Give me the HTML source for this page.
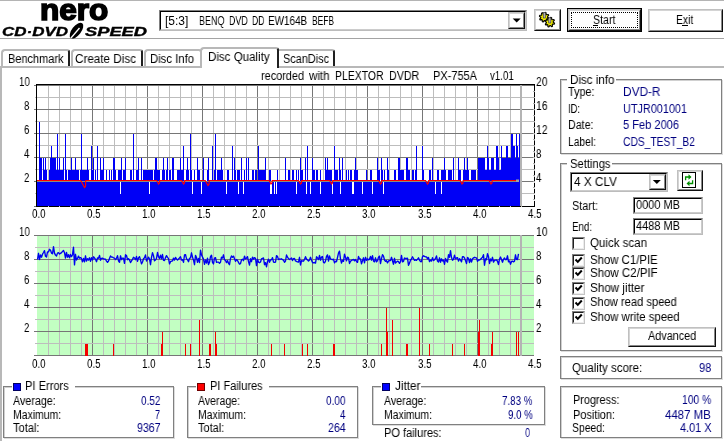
<!DOCTYPE html>
<html><head><meta charset="utf-8"><title>Nero CD-DVD Speed</title>
<style>
html,body{margin:0;padding:0;}
body{width:724px;height:441px;background:#fff;position:relative;overflow:hidden;font-family:"Liberation Sans",sans-serif;}
.t{position:absolute;white-space:nowrap;line-height:1;transform-origin:0 0;will-change:transform;font-family:"Liberation Sans",sans-serif;}
svg{position:absolute;left:0;top:0;}
</style></head><body>
<div style="position:absolute;left:0px;top:0px;width:724px;height:1px;background:#b4b4b4"></div>
<div style="position:absolute;left:0px;top:38px;width:724px;height:1.4px;background:#a4a4a4"></div>
<div style="position:absolute;left:0px;top:66px;width:724px;height:2px;background:#b8b8b8"></div>
<div style="position:absolute;left:0px;top:66px;width:1.5px;height:375px;background:#b8b8b8"></div>
<span class="t" style="left:40px;top:-5.2px;font-size:30px;font-weight:bold;-webkit-text-stroke:1.6px #000;transform:scaleX(1.052)">nero</span>
<span class="t" style="left:1.5px;top:25.6px;font-size:12px;font-weight:bold;font-style:italic;-webkit-text-stroke:0.35px #000;transform:scaleX(1.414)">CD·DVD</span>
<span class="t" style="left:84.7px;top:25.6px;font-size:12px;font-weight:bold;font-style:italic;-webkit-text-stroke:0.35px #000;transform:scaleX(1.524)">SPEED</span>
<svg width="724" height="441" style="z-index:3;pointer-events:none"><ellipse cx="76.5" cy="30.7" rx="9.3" ry="4.6" transform="rotate(-52 76.5 30.7)" fill="#000"/><path d="M71 38 L79.5 28" stroke="#fff" stroke-width="1.3"/></svg>
<div style="position:absolute;left:159px;top:10px;width:368px;height:21px;background:#fff;box-sizing:border-box;border:1px solid;border-color:#808080 #bcbcbc #bcbcbc #808080"></div>
<div style="position:absolute;left:160px;top:11px;width:366px;height:19px;box-sizing:border-box;border:1px solid;border-color:#000 #cccccc #cccccc #000"></div>
<div style="position:absolute;left:508px;top:12px;width:17px;height:17px;background:#fff;box-sizing:border-box;border:1px solid;border-color:#c0c0c0 #101010 #101010 #c0c0c0"></div>
<div style="position:absolute;left:509px;top:13px;width:15px;height:15px;box-sizing:border-box;border:1px solid;border-color:#d4d4d4 #888 #888 #d4d4d4"></div>
<svg width="724" height="441"><path d="M512.7 18.5 h8 l-4 4z" fill="#000"/></svg>
<span class="t" style="left:165.30px;top:14.50px;font-size:12px;color:#000;transform:scaleX(0.9859);">[5:3]</span>
<span class="t" style="left:198.60px;top:14.50px;font-size:12px;color:#000;transform:scaleX(0.7471);">BENQ</span>
<span class="t" style="left:228.80px;top:14.50px;font-size:12px;color:#000;transform:scaleX(0.7379);">DVD</span>
<span class="t" style="left:251.80px;top:14.50px;font-size:12px;color:#000;transform:scaleX(0.7150);">DD</span>
<span class="t" style="left:268.40px;top:14.50px;font-size:12px;color:#000;transform:scaleX(0.8280);">EW164B</span>
<span class="t" style="left:312.00px;top:14.50px;font-size:12px;color:#000;transform:scaleX(0.7054);">BEFB</span>
<div style="position:absolute;left:534px;top:9px;width:27px;height:22px;background:#fff;box-sizing:border-box;border:1px solid;border-color:#c0c0c0 #101010 #101010 #c0c0c0"></div>
<div style="position:absolute;left:535px;top:10px;width:25px;height:20px;box-sizing:border-box;border:1px solid;border-color:#d4d4d4 #888 #888 #d4d4d4"></div>
<svg width="724" height="441"><polygon points="549.00,18.17 548.72,19.09 547.02,19.10 546.60,19.61 546.91,21.28 546.06,21.73 544.85,20.54 544.19,20.60 543.23,22.00 542.31,21.72 542.30,20.02 541.79,19.60 540.12,19.91 539.67,19.06 540.86,17.85 540.80,17.19 539.40,16.23 539.68,15.31 541.38,15.30 541.80,14.79 541.49,13.12 542.34,12.67 543.55,13.86 544.21,13.80 545.17,12.40 546.09,12.68 546.10,14.38 546.61,14.80 548.28,14.49 548.73,15.34 547.54,16.55 547.60,17.21" fill="#f4f000" stroke="#000" stroke-width="1.1" stroke-linejoin="round"/><polygon points="554.60,23.17 554.32,24.09 552.62,24.10 552.20,24.61 552.51,26.28 551.66,26.73 550.45,25.54 549.79,25.60 548.83,27.00 547.91,26.72 547.90,25.02 547.39,24.60 545.72,24.91 545.27,24.06 546.46,22.85 546.40,22.19 545.00,21.23 545.28,20.31 546.98,20.30 547.40,19.79 547.09,18.12 547.94,17.67 549.15,18.86 549.81,18.80 550.77,17.40 551.69,17.68 551.70,19.38 552.21,19.80 553.88,19.49 554.33,20.34 553.14,21.55 553.20,22.21" fill="#f4f000" stroke="#000" stroke-width="1.1" stroke-linejoin="round"/><rect x="543.2" y="12.5" width="2.2" height="5.5" fill="#b0b0b8" stroke="#333" stroke-width="0.6"/><rect x="548.7" y="17.8" width="2.2" height="5.2" fill="#b0b0b8" stroke="#333" stroke-width="0.6"/></svg>
<div style="position:absolute;left:567px;top:8px;width:75px;height:24px;background:#000"></div>
<div style="position:absolute;left:568px;top:9px;width:73px;height:22px;background:#fff;box-sizing:border-box;border:1px solid;border-color:#c0c0c0 #101010 #101010 #c0c0c0"></div>
<div style="position:absolute;left:569px;top:10px;width:71px;height:20px;box-sizing:border-box;border:1px solid;border-color:#d4d4d4 #888 #888 #d4d4d4"></div>
<div style="position:absolute;left:571px;top:12px;width:67px;height:16px;box-sizing:border-box;border:1px dotted #000"></div>
<span class="t" style="left:592.50px;top:14.00px;font-size:12px;color:#000;transform:scaleX(0.8883);">Start</span>
<div style="position:absolute;left:592.5px;top:25px;width:5px;height:1px;background:#000"></div>
<div style="position:absolute;left:648px;top:9px;width:75px;height:23px;background:#fff;box-sizing:border-box;border:1px solid;border-color:#c0c0c0 #101010 #101010 #c0c0c0"></div>
<div style="position:absolute;left:649px;top:10px;width:73px;height:21px;box-sizing:border-box;border:1px solid;border-color:#d4d4d4 #888 #888 #d4d4d4"></div>
<span class="t" style="left:675.70px;top:14.00px;font-size:12px;color:#000;transform:scaleX(0.8600);">Exit</span>
<div style="position:absolute;left:682px;top:25px;width:5.5px;height:1px;background:#000"></div>
<div style="position:absolute;left:1px;top:49px;width:69.3px;height:17px;background:#fff;box-sizing:border-box;border:2px solid #b8b8b8;border-bottom:none;border-right:2px solid #202020;border-radius:4px 3px 0 0;z-index:1"></div>
<span class="t" style="left:8.00px;top:52.70px;font-size:12px;color:#000;transform:scaleX(0.9145);z-index:3;">Benchmark</span>
<div style="position:absolute;left:70.5px;top:49px;width:72.9px;height:17px;background:#fff;box-sizing:border-box;border:2px solid #b8b8b8;border-bottom:none;border-right:2px solid #202020;border-radius:4px 3px 0 0;z-index:1"></div>
<span class="t" style="left:75.00px;top:52.70px;font-size:12px;color:#000;transform:scaleX(0.9731);z-index:3;">Create&nbsp;Disc</span>
<div style="position:absolute;left:143.8px;top:49px;width:58.19999999999999px;height:17px;background:#fff;box-sizing:border-box;border:2px solid #b8b8b8;border-bottom:none;border-right:2px solid #202020;border-radius:4px 3px 0 0;z-index:1"></div>
<span class="t" style="left:150.00px;top:52.70px;font-size:12px;color:#000;transform:scaleX(0.9428);z-index:3;">Disc&nbsp;Info</span>
<div style="position:absolute;left:274px;top:49px;width:61px;height:17px;background:#fff;box-sizing:border-box;border:2px solid #b8b8b8;border-bottom:none;border-right:2px solid #202020;border-radius:4px 3px 0 0;z-index:1"></div>
<span class="t" style="left:282.50px;top:52.70px;font-size:12px;color:#000;transform:scaleX(0.9075);z-index:3;">ScanDisc</span>
<div style="position:absolute;left:199.5px;top:47px;width:79.0px;height:21px;background:#fff;box-sizing:border-box;border:2px solid #b8b8b8;border-bottom:none;border-right:2px solid #202020;border-radius:4px 3px 0 0;z-index:2"></div>
<span class="t" style="left:207.50px;top:50.60px;font-size:12px;color:#000;transform:scaleX(0.9623);z-index:3;">Disc&nbsp;Quality</span>
<span class="t" style="left:260.60px;top:70.30px;font-size:12px;color:#000;transform:scaleX(0.9080);">recorded</span>
<span class="t" style="left:309.00px;top:70.30px;font-size:12px;color:#000;transform:scaleX(0.9605);">with</span>
<span class="t" style="left:335.00px;top:70.30px;font-size:12px;color:#000;transform:scaleX(0.8695);">PLEXTOR</span>
<span class="t" style="left:389.00px;top:70.30px;font-size:12px;color:#000;transform:scaleX(0.8908);">DVDR</span>
<span class="t" style="left:433.00px;top:70.30px;font-size:12px;color:#000;transform:scaleX(0.9164);">PX-755A</span>
<span class="t" style="left:490.00px;top:70.30px;font-size:12px;color:#000;transform:scaleX(0.8077);">v1.01</span>
<span class="t" style="left:18.60px;top:76.00px;font-size:12px;color:#000;transform:scaleX(0.8094);">10</span>
<span class="t" style="left:24.10px;top:100.00px;font-size:12px;color:#000;transform:scaleX(0.7944);">8</span>
<span class="t" style="left:24.10px;top:124.00px;font-size:12px;color:#000;transform:scaleX(0.7944);">6</span>
<span class="t" style="left:24.10px;top:148.00px;font-size:12px;color:#000;transform:scaleX(0.7944);">4</span>
<span class="t" style="left:24.10px;top:172.00px;font-size:12px;color:#000;transform:scaleX(0.7944);">2</span>
<span class="t" style="left:536.20px;top:76.00px;font-size:12px;color:#000;transform:scaleX(0.8618);">20</span>
<span class="t" style="left:536.20px;top:100.00px;font-size:12px;color:#000;transform:scaleX(0.8618);">16</span>
<span class="t" style="left:536.20px;top:124.00px;font-size:12px;color:#000;transform:scaleX(0.8618);">12</span>
<span class="t" style="left:536.20px;top:148.00px;font-size:12px;color:#000;transform:scaleX(0.7944);">8</span>
<span class="t" style="left:536.20px;top:172.00px;font-size:12px;color:#000;transform:scaleX(0.7944);">4</span>
<span class="t" style="left:31.80px;top:208.00px;font-size:12px;color:#000;transform:scaleX(0.8157);">0.0</span>
<span class="t" style="left:31.80px;top:358.00px;font-size:12px;color:#000;transform:scaleX(0.8157);">0.0</span>
<span class="t" style="left:86.90px;top:208.00px;font-size:12px;color:#000;transform:scaleX(0.8157);">0.5</span>
<span class="t" style="left:86.90px;top:358.00px;font-size:12px;color:#000;transform:scaleX(0.8157);">0.5</span>
<span class="t" style="left:142.00px;top:208.00px;font-size:12px;color:#000;transform:scaleX(0.8157);">1.0</span>
<span class="t" style="left:142.00px;top:358.00px;font-size:12px;color:#000;transform:scaleX(0.8157);">1.0</span>
<span class="t" style="left:197.10px;top:208.00px;font-size:12px;color:#000;transform:scaleX(0.8157);">1.5</span>
<span class="t" style="left:197.10px;top:358.00px;font-size:12px;color:#000;transform:scaleX(0.8157);">1.5</span>
<span class="t" style="left:252.20px;top:208.00px;font-size:12px;color:#000;transform:scaleX(0.8157);">2.0</span>
<span class="t" style="left:252.20px;top:358.00px;font-size:12px;color:#000;transform:scaleX(0.8157);">2.0</span>
<span class="t" style="left:307.30px;top:208.00px;font-size:12px;color:#000;transform:scaleX(0.8157);">2.5</span>
<span class="t" style="left:307.30px;top:358.00px;font-size:12px;color:#000;transform:scaleX(0.8157);">2.5</span>
<span class="t" style="left:362.40px;top:208.00px;font-size:12px;color:#000;transform:scaleX(0.8157);">3.0</span>
<span class="t" style="left:362.40px;top:358.00px;font-size:12px;color:#000;transform:scaleX(0.8157);">3.0</span>
<span class="t" style="left:417.50px;top:208.00px;font-size:12px;color:#000;transform:scaleX(0.8157);">3.5</span>
<span class="t" style="left:417.50px;top:358.00px;font-size:12px;color:#000;transform:scaleX(0.8157);">3.5</span>
<span class="t" style="left:472.60px;top:208.00px;font-size:12px;color:#000;transform:scaleX(0.8157);">4.0</span>
<span class="t" style="left:472.60px;top:358.00px;font-size:12px;color:#000;transform:scaleX(0.8157);">4.0</span>
<span class="t" style="left:527.70px;top:208.00px;font-size:12px;color:#000;transform:scaleX(0.8157);">4.5</span>
<span class="t" style="left:527.70px;top:358.00px;font-size:12px;color:#000;transform:scaleX(0.8157);">4.5</span>
<span class="t" style="left:18.60px;top:226.00px;font-size:12px;color:#000;transform:scaleX(0.8094);">10</span>
<span class="t" style="left:536.20px;top:226.00px;font-size:12px;color:#000;transform:scaleX(0.8618);">10</span>
<span class="t" style="left:24.10px;top:250.00px;font-size:12px;color:#000;transform:scaleX(0.7944);">8</span>
<span class="t" style="left:536.20px;top:250.00px;font-size:12px;color:#000;transform:scaleX(0.7944);">8</span>
<span class="t" style="left:24.10px;top:274.00px;font-size:12px;color:#000;transform:scaleX(0.7944);">6</span>
<span class="t" style="left:536.20px;top:274.00px;font-size:12px;color:#000;transform:scaleX(0.7944);">6</span>
<span class="t" style="left:24.10px;top:298.00px;font-size:12px;color:#000;transform:scaleX(0.7944);">4</span>
<span class="t" style="left:536.20px;top:298.00px;font-size:12px;color:#000;transform:scaleX(0.7944);">4</span>
<span class="t" style="left:24.10px;top:322.00px;font-size:12px;color:#000;transform:scaleX(0.7944);">2</span>
<span class="t" style="left:536.20px;top:322.00px;font-size:12px;color:#000;transform:scaleX(0.7944);">2</span>
<svg width="724" height="441"><line x1="48.5" y1="85" x2="48.5" y2="207" stroke="#bdbdbd" stroke-width="1"/><line x1="59.5" y1="85" x2="59.5" y2="207" stroke="#bdbdbd" stroke-width="1"/><line x1="70.5" y1="85" x2="70.5" y2="207" stroke="#bdbdbd" stroke-width="1"/><line x1="81.5" y1="85" x2="81.5" y2="207" stroke="#bdbdbd" stroke-width="1"/><line x1="92.5" y1="85" x2="92.5" y2="207" stroke="#767676" stroke-width="1"/><line x1="103.5" y1="85" x2="103.5" y2="207" stroke="#bdbdbd" stroke-width="1"/><line x1="114.5" y1="85" x2="114.5" y2="207" stroke="#bdbdbd" stroke-width="1"/><line x1="125.5" y1="85" x2="125.5" y2="207" stroke="#bdbdbd" stroke-width="1"/><line x1="136.5" y1="85" x2="136.5" y2="207" stroke="#bdbdbd" stroke-width="1"/><line x1="147.5" y1="85" x2="147.5" y2="207" stroke="#767676" stroke-width="1"/><line x1="158.5" y1="85" x2="158.5" y2="207" stroke="#bdbdbd" stroke-width="1"/><line x1="169.5" y1="85" x2="169.5" y2="207" stroke="#bdbdbd" stroke-width="1"/><line x1="180.5" y1="85" x2="180.5" y2="207" stroke="#bdbdbd" stroke-width="1"/><line x1="191.5" y1="85" x2="191.5" y2="207" stroke="#bdbdbd" stroke-width="1"/><line x1="202.5" y1="85" x2="202.5" y2="207" stroke="#767676" stroke-width="1"/><line x1="213.5" y1="85" x2="213.5" y2="207" stroke="#bdbdbd" stroke-width="1"/><line x1="224.5" y1="85" x2="224.5" y2="207" stroke="#bdbdbd" stroke-width="1"/><line x1="235.5" y1="85" x2="235.5" y2="207" stroke="#bdbdbd" stroke-width="1"/><line x1="246.5" y1="85" x2="246.5" y2="207" stroke="#bdbdbd" stroke-width="1"/><line x1="257.5" y1="85" x2="257.5" y2="207" stroke="#767676" stroke-width="1"/><line x1="268.5" y1="85" x2="268.5" y2="207" stroke="#bdbdbd" stroke-width="1"/><line x1="279.5" y1="85" x2="279.5" y2="207" stroke="#bdbdbd" stroke-width="1"/><line x1="290.5" y1="85" x2="290.5" y2="207" stroke="#bdbdbd" stroke-width="1"/><line x1="301.5" y1="85" x2="301.5" y2="207" stroke="#bdbdbd" stroke-width="1"/><line x1="312.5" y1="85" x2="312.5" y2="207" stroke="#767676" stroke-width="1"/><line x1="323.5" y1="85" x2="323.5" y2="207" stroke="#bdbdbd" stroke-width="1"/><line x1="334.5" y1="85" x2="334.5" y2="207" stroke="#bdbdbd" stroke-width="1"/><line x1="345.5" y1="85" x2="345.5" y2="207" stroke="#bdbdbd" stroke-width="1"/><line x1="356.5" y1="85" x2="356.5" y2="207" stroke="#bdbdbd" stroke-width="1"/><line x1="367.5" y1="85" x2="367.5" y2="207" stroke="#767676" stroke-width="1"/><line x1="378.5" y1="85" x2="378.5" y2="207" stroke="#bdbdbd" stroke-width="1"/><line x1="389.5" y1="85" x2="389.5" y2="207" stroke="#bdbdbd" stroke-width="1"/><line x1="400.5" y1="85" x2="400.5" y2="207" stroke="#bdbdbd" stroke-width="1"/><line x1="411.5" y1="85" x2="411.5" y2="207" stroke="#bdbdbd" stroke-width="1"/><line x1="422.5" y1="85" x2="422.5" y2="207" stroke="#767676" stroke-width="1"/><line x1="433.5" y1="85" x2="433.5" y2="207" stroke="#bdbdbd" stroke-width="1"/><line x1="444.5" y1="85" x2="444.5" y2="207" stroke="#bdbdbd" stroke-width="1"/><line x1="455.5" y1="85" x2="455.5" y2="207" stroke="#bdbdbd" stroke-width="1"/><line x1="466.5" y1="85" x2="466.5" y2="207" stroke="#bdbdbd" stroke-width="1"/><line x1="477.5" y1="85" x2="477.5" y2="207" stroke="#767676" stroke-width="1"/><line x1="488.5" y1="85" x2="488.5" y2="207" stroke="#bdbdbd" stroke-width="1"/><line x1="499.5" y1="85" x2="499.5" y2="207" stroke="#bdbdbd" stroke-width="1"/><line x1="510.5" y1="85" x2="510.5" y2="207" stroke="#bdbdbd" stroke-width="1"/><line x1="521.5" y1="85" x2="521.5" y2="207" stroke="#bdbdbd" stroke-width="1"/><line x1="34" y1="206.5" x2="534" y2="206.5" stroke="#767676" stroke-width="1"/><line x1="35" y1="193.5" x2="534" y2="193.5" stroke="#bdbdbd" stroke-width="1"/><line x1="34" y1="181.5" x2="534" y2="181.5" stroke="#767676" stroke-width="1"/><line x1="35" y1="169.5" x2="534" y2="169.5" stroke="#bdbdbd" stroke-width="1"/><line x1="34" y1="157.5" x2="534" y2="157.5" stroke="#767676" stroke-width="1"/><line x1="35" y1="145.5" x2="534" y2="145.5" stroke="#bdbdbd" stroke-width="1"/><line x1="34" y1="133.5" x2="534" y2="133.5" stroke="#767676" stroke-width="1"/><line x1="35" y1="121.5" x2="534" y2="121.5" stroke="#bdbdbd" stroke-width="1"/><line x1="34" y1="109.5" x2="534" y2="109.5" stroke="#767676" stroke-width="1"/><line x1="35" y1="97.5" x2="534" y2="97.5" stroke="#bdbdbd" stroke-width="1"/><line x1="34" y1="85.5" x2="534" y2="85.5" stroke="#767676" stroke-width="1"/><path d="M37 206V182h1V206zM38 206V182h1V206zM39 206V122h1V206zM40 206V158h1V206zM41 206V158h1V206zM42 206V182h1V206zM43 206V158h1V206zM44 206V170h1V206zM45 206V158h1V206zM46 206V170h1V206zM47 206V182h1V206zM48 206V182h1V206zM49 206V170h1V206zM50 206V158h1V206zM51 206V146h1V206zM52 206V158h1V206zM53 206V158h1V206zM54 206V158h1V206zM55 206V158h1V206zM56 206V170h1V206zM57 206V134h1V206zM58 206V170h1V206zM59 206V158h1V206zM60 206V170h1V206zM61 206V170h1V206zM62 206V170h1V206zM63 206V158h1V206zM64 206V182h1V206zM65 206V134h1V206zM66 206V170h1V206zM67 206V182h1V206zM68 206V170h1V206zM69 206V170h1V206zM70 206V170h1V206zM71 206V158h1V206zM72 206V170h1V206zM73 206V170h1V206zM74 206V170h1V206zM75 206V158h1V206zM76 206V170h1V206zM77 206V170h1V206zM78 206V170h1V206zM79 206V182h1V206zM80 206V170h1V206zM81 206V134h1V206zM82 206V170h1V206zM83 206V170h1V206zM84 206V170h1V206zM85 206V170h1V206zM86 206V170h1V206zM87 206V158h1V206zM88 206V170h1V206zM89 206V182h1V206zM90 206V182h1V206zM91 206V146h1V206zM92 206V170h1V206zM93 206V158h1V206zM94 206V182h1V206zM95 206V170h1V206zM96 206V182h1V206zM97 206V146h1V206zM98 206V182h1V206zM99 206V182h1V206zM100 206V158h1V206zM101 206V170h1V206zM102 206V170h1V206zM103 206V158h1V206zM104 206V182h1V206zM105 206V182h1V206zM106 206V170h1V206zM107 206V182h1V206zM108 206V182h1V206zM109 206V170h1V206zM110 206V182h1V206zM111 206V170h1V206zM112 206V182h1V206zM113 206V158h1V206zM114 206V158h1V206zM115 206V170h1V206zM116 206V182h1V206zM117 206V182h1V206zM118 206V170h1V206zM119 206V170h1V206zM120 206V170h1V206zM121 206V158h1V206zM122 206V182h1V206zM123 206V170h1V206zM124 206V170h1V206zM125 206V158h1V206zM126 206V182h1V206zM127 206V182h1V206zM128 206V182h1V206zM129 206V182h1V206zM130 206V170h1V206zM131 206V170h1V206zM132 206V182h1V206zM133 206V134h1V206zM134 206V182h1V206zM135 206V182h1V206zM136 206V170h1V206zM137 206V170h1V206zM138 206V158h1V206zM139 206V182h1V206zM140 206V182h1V206zM141 206V158h1V206zM142 206V182h1V206zM143 206V170h1V206zM144 206V170h1V206zM145 206V170h1V206zM146 206V170h1V206zM147 206V170h1V206zM148 206V170h1V206zM149 206V170h1V206zM150 206V170h1V206zM151 206V170h1V206zM152 206V170h1V206zM153 206V182h1V206zM154 206V170h1V206zM155 206V158h1V206zM156 206V158h1V206zM157 206V170h1V206zM158 206V170h1V206zM159 206V170h1V206zM160 206V182h1V206zM161 206V182h1V206zM162 206V170h1V206zM163 206V158h1V206zM164 206V170h1V206zM165 206V182h1V206zM166 206V170h1V206zM167 206V158h1V206zM168 206V182h1V206zM169 206V170h1V206zM170 206V170h1V206zM171 206V182h1V206zM172 206V158h1V206zM173 206V158h1V206zM174 206V182h1V206zM175 206V182h1V206zM176 206V182h1V206zM177 206V170h1V206zM178 206V170h1V206zM179 206V170h1V206zM180 206V158h1V206zM181 206V170h1V206zM182 206V170h1V206zM183 206V146h1V206zM184 206V182h1V206zM185 206V182h1V206zM186 206V170h1V206zM187 206V158h1V206zM188 206V170h1V206zM189 206V182h1V206zM190 206V134h1V206zM191 206V170h1V206zM192 206V182h1V206zM193 206V182h1V206zM194 206V170h1V206zM195 206V182h1V206zM196 206V182h1V206zM197 206V158h1V206zM198 206V170h1V206zM199 206V170h1V206zM200 206V182h1V206zM201 206V182h1V206zM202 206V182h1V206zM203 206V158h1V206zM204 206V182h1V206zM205 206V182h1V206zM206 206V182h1V206zM207 206V170h1V206zM208 206V158h1V206zM209 206V182h1V206zM210 206V182h1V206zM211 206V182h1V206zM212 206V146h1V206zM213 206V182h1V206zM214 206V170h1V206zM215 206V134h1V206zM216 206V182h1V206zM217 206V170h1V206zM218 206V170h1V206zM219 206V170h1V206zM220 206V170h1V206zM221 206V158h1V206zM222 206V170h1V206zM223 206V182h1V206zM224 206V182h1V206zM225 206V182h1V206zM226 206V182h1V206zM227 206V170h1V206zM228 206V170h1V206zM229 206V182h1V206zM230 206V182h1V206zM231 206V182h1V206zM232 206V146h1V206zM233 206V182h1V206zM234 206V158h1V206zM235 206V170h1V206zM236 206V182h1V206zM237 206V170h1V206zM238 206V170h1V206zM239 206V170h1V206zM240 206V182h1V206zM241 206V158h1V206zM242 206V182h1V206zM243 206V182h1V206zM244 206V170h1V206zM245 206V182h1V206zM246 206V158h1V206zM247 206V182h1V206zM248 206V158h1V206zM249 206V182h1V206zM250 206V182h1V206zM251 206V182h1V206zM252 206V170h1V206zM253 206V170h1V206zM254 206V182h1V206zM255 206V170h1V206zM256 206V170h1V206zM257 206V182h1V206zM258 206V146h1V206zM259 206V170h1V206zM260 206V170h1V206zM261 206V170h1V206zM262 206V170h1V206zM263 206V170h1V206zM264 206V170h1V206zM265 206V158h1V206zM266 206V182h1V206zM267 206V182h1V206zM268 206V182h1V206zM269 206V170h1V206zM270 206V170h1V206zM271 206V182h1V206zM272 206V182h1V206zM273 206V182h1V206zM274 206V182h1V206zM275 206V182h1V206zM276 206V182h1V206zM277 206V170h1V206zM278 206V182h1V206zM279 206V182h1V206zM280 206V182h1V206zM281 206V182h1V206zM282 206V182h1V206zM283 206V182h1V206zM284 206V182h1V206zM285 206V158h1V206zM286 206V182h1V206zM287 206V182h1V206zM288 206V170h1V206zM289 206V170h1V206zM290 206V182h1V206zM291 206V182h1V206zM292 206V170h1V206zM293 206V170h1V206zM294 206V182h1V206zM295 206V182h1V206zM296 206V170h1V206zM297 206V182h1V206zM298 206V170h1V206zM299 206V182h1V206zM300 206V158h1V206zM301 206V170h1V206zM302 206V170h1V206zM303 206V182h1V206zM304 206V182h1V206zM305 206V158h1V206zM306 206V182h1V206zM307 206V146h1V206zM308 206V182h1V206zM309 206V182h1V206zM310 206V182h1V206zM311 206V182h1V206zM312 206V158h1V206zM313 206V170h1V206zM314 206V170h1V206zM315 206V182h1V206zM316 206V170h1V206zM317 206V170h1V206zM318 206V182h1V206zM319 206V182h1V206zM320 206V170h1V206zM321 206V182h1V206zM322 206V182h1V206zM323 206V182h1V206zM324 206V182h1V206zM325 206V158h1V206zM326 206V170h1V206zM327 206V158h1V206zM328 206V170h1V206zM329 206V170h1V206zM330 206V170h1V206zM331 206V170h1V206zM332 206V182h1V206zM333 206V182h1V206zM334 206V146h1V206zM335 206V170h1V206zM336 206V170h1V206zM337 206V170h1V206zM338 206V182h1V206zM339 206V158h1V206zM340 206V170h1V206zM341 206V182h1V206zM342 206V158h1V206zM343 206V182h1V206zM344 206V182h1V206zM345 206V182h1V206zM346 206V170h1V206zM347 206V182h1V206zM348 206V170h1V206zM349 206V182h1V206zM350 206V170h1V206zM351 206V170h1V206zM352 206V182h1V206zM353 206V182h1V206zM354 206V170h1V206zM355 206V158h1V206zM356 206V170h1V206zM357 206V170h1V206zM358 206V182h1V206zM359 206V182h1V206zM360 206V182h1V206zM361 206V182h1V206zM362 206V182h1V206zM363 206V182h1V206zM364 206V182h1V206zM365 206V182h1V206zM366 206V170h1V206zM367 206V182h1V206zM368 206V182h1V206zM369 206V182h1V206zM370 206V170h1V206zM371 206V170h1V206zM372 206V182h1V206zM373 206V182h1V206zM374 206V182h1V206zM375 206V182h1V206zM376 206V182h1V206zM377 206V158h1V206zM378 206V170h1V206zM379 206V170h1V206zM380 206V182h1V206zM381 206V158h1V206zM382 206V170h1V206zM383 206V182h1V206zM384 206V170h1V206zM385 206V182h1V206zM386 206V182h1V206zM387 206V158h1V206zM388 206V170h1V206zM389 206V182h1V206zM390 206V182h1V206zM391 206V182h1V206zM392 206V182h1V206zM393 206V182h1V206zM394 206V170h1V206zM395 206V170h1V206zM396 206V182h1V206zM397 206V182h1V206zM398 206V158h1V206zM399 206V158h1V206zM400 206V170h1V206zM401 206V170h1V206zM402 206V170h1V206zM403 206V170h1V206zM404 206V182h1V206zM405 206V182h1V206zM406 206V158h1V206zM407 206V158h1V206zM408 206V170h1V206zM409 206V170h1V206zM410 206V182h1V206zM411 206V182h1V206zM412 206V170h1V206zM413 206V170h1V206zM414 206V182h1V206zM415 206V170h1V206zM416 206V146h1V206zM417 206V182h1V206zM418 206V182h1V206zM419 206V182h1V206zM420 206V182h1V206zM421 206V182h1V206zM422 206V146h1V206zM423 206V170h1V206zM424 206V182h1V206zM425 206V182h1V206zM426 206V182h1V206zM427 206V182h1V206zM428 206V182h1V206zM429 206V170h1V206zM430 206V170h1V206zM431 206V182h1V206zM432 206V158h1V206zM433 206V182h1V206zM434 206V182h1V206zM435 206V182h1V206zM436 206V182h1V206zM437 206V170h1V206zM438 206V170h1V206zM439 206V182h1V206zM440 206V182h1V206zM441 206V170h1V206zM442 206V170h1V206zM443 206V170h1V206zM444 206V158h1V206zM445 206V170h1V206zM446 206V182h1V206zM447 206V182h1V206zM448 206V170h1V206zM449 206V170h1V206zM450 206V170h1V206zM451 206V170h1V206zM452 206V182h1V206zM453 206V158h1V206zM454 206V182h1V206zM455 206V182h1V206zM456 206V182h1V206zM457 206V182h1V206zM458 206V158h1V206zM459 206V170h1V206zM460 206V170h1V206zM461 206V182h1V206zM462 206V182h1V206zM463 206V170h1V206zM464 206V158h1V206zM465 206V170h1V206zM466 206V170h1V206zM467 206V158h1V206zM468 206V170h1V206zM469 206V182h1V206zM470 206V182h1V206zM471 206V170h1V206zM472 206V170h1V206zM473 206V170h1V206zM474 206V170h1V206zM475 206V170h1V206zM476 206V182h1V206zM477 206V182h1V206zM478 206V158h1V206zM479 206V158h1V206zM480 206V158h1V206zM481 206V158h1V206zM482 206V158h1V206zM483 206V158h1V206zM484 206V158h1V206zM485 206V170h1V206zM486 206V170h1V206zM487 206V146h1V206zM488 206V158h1V206zM489 206V170h1V206zM490 206V170h1V206zM491 206V158h1V206zM492 206V158h1V206zM493 206V158h1V206zM494 206V170h1V206zM495 206V170h1V206zM496 206V146h1V206zM497 206V146h1V206zM498 206V158h1V206zM499 206V170h1V206zM500 206V170h1V206zM501 206V146h1V206zM502 206V158h1V206zM503 206V158h1V206zM504 206V158h1V206zM505 206V158h1V206zM506 206V146h1V206zM507 206V146h1V206zM508 206V158h1V206zM509 206V158h1V206zM510 206V158h1V206zM511 206V134h1V206zM512 206V134h1V206zM513 206V146h1V206zM514 206V146h1V206zM515 206V158h1V206zM516 206V134h1V206zM517 206V146h1V206zM518 206V158h1V206zM519 206V134h1V206z" fill="#0000f6" shape-rendering="crispEdges"/><rect x="120" y="182" width="1" height="12" fill="#fff" shape-rendering="crispEdges"/><rect x="149" y="182" width="1" height="12" fill="#fff" shape-rendering="crispEdges"/><rect x="192" y="182" width="1" height="12" fill="#fff" shape-rendering="crispEdges"/><rect x="201" y="182" width="1" height="12" fill="#fff" shape-rendering="crispEdges"/><rect x="226" y="182" width="1" height="12" fill="#fff" shape-rendering="crispEdges"/><rect x="238" y="182" width="1" height="12" fill="#fff" shape-rendering="crispEdges"/><rect x="243" y="182" width="1" height="12" fill="#fff" shape-rendering="crispEdges"/><rect x="270" y="182" width="1" height="12" fill="#fff" shape-rendering="crispEdges"/><rect x="271" y="182" width="1" height="12" fill="#fff" shape-rendering="crispEdges"/><rect x="274" y="182" width="1" height="12" fill="#fff" shape-rendering="crispEdges"/><rect x="276" y="182" width="1" height="12" fill="#fff" shape-rendering="crispEdges"/><rect x="296" y="182" width="1" height="12" fill="#fff" shape-rendering="crispEdges"/><rect x="306" y="182" width="1" height="12" fill="#fff" shape-rendering="crispEdges"/><rect x="310" y="182" width="1" height="12" fill="#fff" shape-rendering="crispEdges"/><rect x="320" y="182" width="1" height="12" fill="#fff" shape-rendering="crispEdges"/><rect x="332" y="182" width="1" height="12" fill="#fff" shape-rendering="crispEdges"/><rect x="340" y="182" width="1" height="12" fill="#fff" shape-rendering="crispEdges"/><rect x="352" y="182" width="1" height="12" fill="#fff" shape-rendering="crispEdges"/><rect x="353" y="182" width="1" height="12" fill="#fff" shape-rendering="crispEdges"/><rect x="362" y="182" width="1" height="12" fill="#fff" shape-rendering="crispEdges"/><rect x="372" y="182" width="1" height="12" fill="#fff" shape-rendering="crispEdges"/><rect x="383" y="182" width="1" height="12" fill="#fff" shape-rendering="crispEdges"/><rect x="435" y="182" width="1" height="12" fill="#fff" shape-rendering="crispEdges"/><rect x="441" y="182" width="1" height="12" fill="#fff" shape-rendering="crispEdges"/><rect x="520" y="85" width="2" height="122" fill="#b4b4b4"/><rect x="37" y="181" width="480" height="1" fill="#8c8c78" shape-rendering="crispEdges"/><polyline points="37.0,180.5 80.7,180.5 84.5,187.5 85.5,186.5 85.7,180.5 156.6,180.5 158.5,184.0 159.5,183.0 159.7,180.5 181.6,180.5 183.5,184.0 184.5,183.0 184.7,180.5 205.2,180.5 208.0,185.5 209.0,184.5 209.2,180.5 269.1,180.5 271.0,184.0 272.0,183.0 272.2,180.5 298.6,180.5 300.5,184.0 301.5,183.0 301.7,180.5 329.6,180.5 331.5,184.0 332.5,183.0 332.7,180.5 378.6,180.5 380.5,184.0 381.5,183.0 381.7,180.5 425.6,180.5 427.5,184.0 428.5,183.0 428.7,180.5 460.1,180.5 462.0,184.0 463.0,183.0 463.2,180.5 489.1,180.5 491.0,184.0 492.0,183.0 492.2,180.5 517.0,180.5" fill="none" stroke="#ff0000" stroke-width="1.15" stroke-linejoin="miter"/><rect x="516" y="179.5" width="3" height="2.5" fill="#a0a0a0"/><rect x="36" y="84" width="499" height="1" fill="#000"/><rect x="36" y="84" width="1" height="123" fill="#000"/><rect x="534" y="84" width="1" height="2" fill="#000"/><line x1="534.5" y1="86" x2="534.5" y2="207" stroke="#000" stroke-width="1" stroke-dasharray="5.05 1"/><rect x="533" y="91" width="2" height="1" fill="#b0b0b0" shape-rendering="crispEdges"/><rect x="533" y="97" width="2" height="1" fill="#b0b0b0" shape-rendering="crispEdges"/><rect x="533" y="103" width="2" height="1" fill="#b0b0b0" shape-rendering="crispEdges"/><rect x="533" y="109" width="2" height="1" fill="#b0b0b0" shape-rendering="crispEdges"/><rect x="533" y="115" width="2" height="1" fill="#b0b0b0" shape-rendering="crispEdges"/><rect x="533" y="121" width="2" height="1" fill="#b0b0b0" shape-rendering="crispEdges"/><rect x="533" y="127" width="2" height="1" fill="#b0b0b0" shape-rendering="crispEdges"/><rect x="533" y="133" width="2" height="1" fill="#b0b0b0" shape-rendering="crispEdges"/><rect x="533" y="139" width="2" height="1" fill="#b0b0b0" shape-rendering="crispEdges"/><rect x="533" y="145" width="2" height="1" fill="#b0b0b0" shape-rendering="crispEdges"/><rect x="533" y="151" width="2" height="1" fill="#b0b0b0" shape-rendering="crispEdges"/><rect x="533" y="157" width="2" height="1" fill="#b0b0b0" shape-rendering="crispEdges"/><rect x="533" y="163" width="2" height="1" fill="#b0b0b0" shape-rendering="crispEdges"/><rect x="533" y="169" width="2" height="1" fill="#b0b0b0" shape-rendering="crispEdges"/><rect x="533" y="175" width="2" height="1" fill="#b0b0b0" shape-rendering="crispEdges"/><rect x="533" y="181" width="2" height="1" fill="#b0b0b0" shape-rendering="crispEdges"/><rect x="533" y="187" width="2" height="1" fill="#b0b0b0" shape-rendering="crispEdges"/><rect x="533" y="193" width="2" height="1" fill="#b0b0b0" shape-rendering="crispEdges"/><rect x="533" y="199" width="2" height="1" fill="#b0b0b0" shape-rendering="crispEdges"/><rect x="36" y="206" width="499" height="1" fill="#000" shape-rendering="crispEdges"/><rect x="48" y="206" width="1" height="1" fill="#d0d0c0" shape-rendering="crispEdges"/><rect x="59" y="206" width="1" height="1" fill="#d0d0c0" shape-rendering="crispEdges"/><rect x="70" y="206" width="1" height="1" fill="#d0d0c0" shape-rendering="crispEdges"/><rect x="81" y="206" width="1" height="1" fill="#d0d0c0" shape-rendering="crispEdges"/><rect x="92" y="206" width="1" height="1" fill="#d0d0c0" shape-rendering="crispEdges"/><rect x="103" y="206" width="1" height="1" fill="#d0d0c0" shape-rendering="crispEdges"/><rect x="114" y="206" width="1" height="1" fill="#d0d0c0" shape-rendering="crispEdges"/><rect x="125" y="206" width="1" height="1" fill="#d0d0c0" shape-rendering="crispEdges"/><rect x="136" y="206" width="1" height="1" fill="#d0d0c0" shape-rendering="crispEdges"/><rect x="147" y="206" width="1" height="1" fill="#d0d0c0" shape-rendering="crispEdges"/><rect x="158" y="206" width="1" height="1" fill="#d0d0c0" shape-rendering="crispEdges"/><rect x="169" y="206" width="1" height="1" fill="#d0d0c0" shape-rendering="crispEdges"/><rect x="180" y="206" width="1" height="1" fill="#d0d0c0" shape-rendering="crispEdges"/><rect x="191" y="206" width="1" height="1" fill="#d0d0c0" shape-rendering="crispEdges"/><rect x="202" y="206" width="1" height="1" fill="#d0d0c0" shape-rendering="crispEdges"/><rect x="213" y="206" width="1" height="1" fill="#d0d0c0" shape-rendering="crispEdges"/><rect x="224" y="206" width="1" height="1" fill="#d0d0c0" shape-rendering="crispEdges"/><rect x="235" y="206" width="1" height="1" fill="#d0d0c0" shape-rendering="crispEdges"/><rect x="246" y="206" width="1" height="1" fill="#d0d0c0" shape-rendering="crispEdges"/><rect x="257" y="206" width="1" height="1" fill="#d0d0c0" shape-rendering="crispEdges"/><rect x="268" y="206" width="1" height="1" fill="#d0d0c0" shape-rendering="crispEdges"/><rect x="279" y="206" width="1" height="1" fill="#d0d0c0" shape-rendering="crispEdges"/><rect x="290" y="206" width="1" height="1" fill="#d0d0c0" shape-rendering="crispEdges"/><rect x="301" y="206" width="1" height="1" fill="#d0d0c0" shape-rendering="crispEdges"/><rect x="312" y="206" width="1" height="1" fill="#d0d0c0" shape-rendering="crispEdges"/><rect x="323" y="206" width="1" height="1" fill="#d0d0c0" shape-rendering="crispEdges"/><rect x="334" y="206" width="1" height="1" fill="#d0d0c0" shape-rendering="crispEdges"/><rect x="345" y="206" width="1" height="1" fill="#d0d0c0" shape-rendering="crispEdges"/><rect x="356" y="206" width="1" height="1" fill="#d0d0c0" shape-rendering="crispEdges"/><rect x="367" y="206" width="1" height="1" fill="#d0d0c0" shape-rendering="crispEdges"/><rect x="378" y="206" width="1" height="1" fill="#d0d0c0" shape-rendering="crispEdges"/><rect x="389" y="206" width="1" height="1" fill="#d0d0c0" shape-rendering="crispEdges"/><rect x="400" y="206" width="1" height="1" fill="#d0d0c0" shape-rendering="crispEdges"/><rect x="411" y="206" width="1" height="1" fill="#d0d0c0" shape-rendering="crispEdges"/><rect x="422" y="206" width="1" height="1" fill="#d0d0c0" shape-rendering="crispEdges"/><rect x="433" y="206" width="1" height="1" fill="#d0d0c0" shape-rendering="crispEdges"/><rect x="444" y="206" width="1" height="1" fill="#d0d0c0" shape-rendering="crispEdges"/><rect x="455" y="206" width="1" height="1" fill="#d0d0c0" shape-rendering="crispEdges"/><rect x="466" y="206" width="1" height="1" fill="#d0d0c0" shape-rendering="crispEdges"/><rect x="477" y="206" width="1" height="1" fill="#d0d0c0" shape-rendering="crispEdges"/><rect x="488" y="206" width="1" height="1" fill="#d0d0c0" shape-rendering="crispEdges"/><rect x="499" y="206" width="1" height="1" fill="#d0d0c0" shape-rendering="crispEdges"/><rect x="510" y="206" width="1" height="1" fill="#d0d0c0" shape-rendering="crispEdges"/><rect x="521" y="206" width="1" height="1" fill="#d0d0c0" shape-rendering="crispEdges"/><rect x="37" y="235" width="497" height="121" fill="#c2ffc2"/><line x1="48.5" y1="235" x2="48.5" y2="356" stroke="#bdbdbd" stroke-width="1"/><line x1="59.5" y1="235" x2="59.5" y2="356" stroke="#bdbdbd" stroke-width="1"/><line x1="70.5" y1="235" x2="70.5" y2="356" stroke="#bdbdbd" stroke-width="1"/><line x1="81.5" y1="235" x2="81.5" y2="356" stroke="#bdbdbd" stroke-width="1"/><line x1="92.5" y1="235" x2="92.5" y2="356" stroke="#767676" stroke-width="1"/><line x1="103.5" y1="235" x2="103.5" y2="356" stroke="#bdbdbd" stroke-width="1"/><line x1="114.5" y1="235" x2="114.5" y2="356" stroke="#bdbdbd" stroke-width="1"/><line x1="125.5" y1="235" x2="125.5" y2="356" stroke="#bdbdbd" stroke-width="1"/><line x1="136.5" y1="235" x2="136.5" y2="356" stroke="#bdbdbd" stroke-width="1"/><line x1="147.5" y1="235" x2="147.5" y2="356" stroke="#767676" stroke-width="1"/><line x1="158.5" y1="235" x2="158.5" y2="356" stroke="#bdbdbd" stroke-width="1"/><line x1="169.5" y1="235" x2="169.5" y2="356" stroke="#bdbdbd" stroke-width="1"/><line x1="180.5" y1="235" x2="180.5" y2="356" stroke="#bdbdbd" stroke-width="1"/><line x1="191.5" y1="235" x2="191.5" y2="356" stroke="#bdbdbd" stroke-width="1"/><line x1="202.5" y1="235" x2="202.5" y2="356" stroke="#767676" stroke-width="1"/><line x1="213.5" y1="235" x2="213.5" y2="356" stroke="#bdbdbd" stroke-width="1"/><line x1="224.5" y1="235" x2="224.5" y2="356" stroke="#bdbdbd" stroke-width="1"/><line x1="235.5" y1="235" x2="235.5" y2="356" stroke="#bdbdbd" stroke-width="1"/><line x1="246.5" y1="235" x2="246.5" y2="356" stroke="#bdbdbd" stroke-width="1"/><line x1="257.5" y1="235" x2="257.5" y2="356" stroke="#767676" stroke-width="1"/><line x1="268.5" y1="235" x2="268.5" y2="356" stroke="#bdbdbd" stroke-width="1"/><line x1="279.5" y1="235" x2="279.5" y2="356" stroke="#bdbdbd" stroke-width="1"/><line x1="290.5" y1="235" x2="290.5" y2="356" stroke="#bdbdbd" stroke-width="1"/><line x1="301.5" y1="235" x2="301.5" y2="356" stroke="#bdbdbd" stroke-width="1"/><line x1="312.5" y1="235" x2="312.5" y2="356" stroke="#767676" stroke-width="1"/><line x1="323.5" y1="235" x2="323.5" y2="356" stroke="#bdbdbd" stroke-width="1"/><line x1="334.5" y1="235" x2="334.5" y2="356" stroke="#bdbdbd" stroke-width="1"/><line x1="345.5" y1="235" x2="345.5" y2="356" stroke="#bdbdbd" stroke-width="1"/><line x1="356.5" y1="235" x2="356.5" y2="356" stroke="#bdbdbd" stroke-width="1"/><line x1="367.5" y1="235" x2="367.5" y2="356" stroke="#767676" stroke-width="1"/><line x1="378.5" y1="235" x2="378.5" y2="356" stroke="#bdbdbd" stroke-width="1"/><line x1="389.5" y1="235" x2="389.5" y2="356" stroke="#bdbdbd" stroke-width="1"/><line x1="400.5" y1="235" x2="400.5" y2="356" stroke="#bdbdbd" stroke-width="1"/><line x1="411.5" y1="235" x2="411.5" y2="356" stroke="#bdbdbd" stroke-width="1"/><line x1="422.5" y1="235" x2="422.5" y2="356" stroke="#767676" stroke-width="1"/><line x1="433.5" y1="235" x2="433.5" y2="356" stroke="#bdbdbd" stroke-width="1"/><line x1="444.5" y1="235" x2="444.5" y2="356" stroke="#bdbdbd" stroke-width="1"/><line x1="455.5" y1="235" x2="455.5" y2="356" stroke="#bdbdbd" stroke-width="1"/><line x1="466.5" y1="235" x2="466.5" y2="356" stroke="#bdbdbd" stroke-width="1"/><line x1="477.5" y1="235" x2="477.5" y2="356" stroke="#767676" stroke-width="1"/><line x1="488.5" y1="235" x2="488.5" y2="356" stroke="#bdbdbd" stroke-width="1"/><line x1="499.5" y1="235" x2="499.5" y2="356" stroke="#bdbdbd" stroke-width="1"/><line x1="510.5" y1="235" x2="510.5" y2="356" stroke="#bdbdbd" stroke-width="1"/><line x1="521.5" y1="235" x2="521.5" y2="356" stroke="#bdbdbd" stroke-width="1"/><line x1="34" y1="355.5" x2="534" y2="355.5" stroke="#767676" stroke-width="1"/><line x1="35" y1="343.5" x2="534" y2="343.5" stroke="#bdbdbd" stroke-width="1"/><line x1="34" y1="331.5" x2="534" y2="331.5" stroke="#767676" stroke-width="1"/><line x1="35" y1="319.5" x2="534" y2="319.5" stroke="#bdbdbd" stroke-width="1"/><line x1="34" y1="307.5" x2="534" y2="307.5" stroke="#767676" stroke-width="1"/><line x1="35" y1="295.5" x2="534" y2="295.5" stroke="#bdbdbd" stroke-width="1"/><line x1="34" y1="283.5" x2="534" y2="283.5" stroke="#767676" stroke-width="1"/><line x1="35" y1="271.5" x2="534" y2="271.5" stroke="#bdbdbd" stroke-width="1"/><line x1="34" y1="259.5" x2="534" y2="259.5" stroke="#767676" stroke-width="1"/><line x1="35" y1="247.5" x2="534" y2="247.5" stroke="#bdbdbd" stroke-width="1"/><line x1="34" y1="235.5" x2="534" y2="235.5" stroke="#767676" stroke-width="1"/><rect x="520" y="235" width="2" height="121" fill="#b4b4b4"/><rect x="85" y="344" width="3" height="12" fill="#f40000" shape-rendering="crispEdges"/><rect x="113" y="344" width="1" height="12" fill="#f40000" shape-rendering="crispEdges"/><rect x="161" y="344" width="2" height="12" fill="#f40000" shape-rendering="crispEdges"/><rect x="162" y="332" width="1" height="24" fill="#f40000" shape-rendering="crispEdges"/><rect x="185" y="344" width="1" height="12" fill="#f40000" shape-rendering="crispEdges"/><rect x="190" y="344" width="1" height="12" fill="#f40000" shape-rendering="crispEdges"/><rect x="199" y="320" width="1" height="36" fill="#f40000" shape-rendering="crispEdges"/><rect x="209" y="344" width="2" height="12" fill="#f40000" shape-rendering="crispEdges"/><rect x="215" y="332" width="1" height="24" fill="#f40000" shape-rendering="crispEdges"/><rect x="216" y="344" width="1" height="12" fill="#f40000" shape-rendering="crispEdges"/><rect x="271" y="344" width="1" height="12" fill="#f40000" shape-rendering="crispEdges"/><rect x="284" y="344" width="1" height="12" fill="#f40000" shape-rendering="crispEdges"/><rect x="302" y="344" width="1" height="12" fill="#f40000" shape-rendering="crispEdges"/><rect x="307" y="344" width="1" height="12" fill="#f40000" shape-rendering="crispEdges"/><rect x="333" y="344" width="2" height="12" fill="#f40000" shape-rendering="crispEdges"/><rect x="381" y="344" width="1" height="12" fill="#f40000" shape-rendering="crispEdges"/><rect x="386" y="308" width="1" height="48" fill="#f40000" shape-rendering="crispEdges"/><rect x="387" y="332" width="1" height="24" fill="#f40000" shape-rendering="crispEdges"/><rect x="392" y="320" width="1" height="36" fill="#f40000" shape-rendering="crispEdges"/><rect x="406" y="344" width="2" height="12" fill="#f40000" shape-rendering="crispEdges"/><rect x="419" y="308" width="1" height="48" fill="#f40000" shape-rendering="crispEdges"/><rect x="429" y="344" width="1" height="12" fill="#f40000" shape-rendering="crispEdges"/><rect x="452" y="344" width="1" height="12" fill="#f40000" shape-rendering="crispEdges"/><rect x="464" y="344" width="1" height="12" fill="#f40000" shape-rendering="crispEdges"/><rect x="478" y="332" width="1" height="24" fill="#f40000" shape-rendering="crispEdges"/><rect x="479" y="320" width="1" height="36" fill="#f40000" shape-rendering="crispEdges"/><rect x="491" y="344" width="1" height="12" fill="#f40000" shape-rendering="crispEdges"/><rect x="492" y="332" width="1" height="24" fill="#f40000" shape-rendering="crispEdges"/><rect x="516" y="332" width="1" height="24" fill="#f40000" shape-rendering="crispEdges"/><rect x="518" y="332" width="1" height="24" fill="#f40000" shape-rendering="crispEdges"/><polyline points="37.5,259.5 38.5,253.3 39.5,259.5 40.5,254.9 41.5,257.2 42.5,254.2 43.5,252.5 44.5,250.7 45.5,256.3 46.5,257.0 47.5,251.9 48.5,251.9 49.5,249.3 50.5,250.3 51.5,253.1 52.5,253.8 53.5,246.7 54.5,253.1 55.5,255.1 56.5,256.1 57.5,253.1 58.5,252.7 59.5,254.0 60.5,253.4 61.5,252.6 62.5,251.5 63.5,250.5 64.5,252.7 65.5,258.0 66.5,252.4 67.5,257.2 68.5,254.7 69.5,257.8 70.5,254.5 71.5,256.6 72.5,254.7 73.5,247.2 74.5,264.9 75.5,254.3 76.5,260.0 77.5,258.4 78.5,256.1 79.5,258.2 80.5,257.6 81.5,258.6 82.5,261.8 83.5,258.5 84.5,261.9 85.5,255.8 86.5,261.1 87.5,258.7 88.5,260.1 89.5,257.8 90.5,261.4 91.5,257.7 92.5,260.1 93.5,256.8 94.5,258.0 95.5,259.3 96.5,261.7 97.5,258.0 98.5,258.3 99.5,255.4 100.5,260.2 101.5,258.3 102.5,258.2 103.5,258.8 104.5,259.0 105.5,259.1 106.5,261.1 107.5,262.4 108.5,261.0 109.5,258.4 110.5,255.9 111.5,257.1 112.5,257.1 113.5,257.8 114.5,258.2 115.5,259.6 116.5,258.3 117.5,255.7 118.5,260.8 119.5,262.3 120.5,255.8 121.5,259.5 122.5,258.1 123.5,258.2 124.5,263.3 125.5,254.8 126.5,255.5 127.5,259.7 128.5,258.6 129.5,260.0 130.5,262.6 131.5,260.9 132.5,259.4 133.5,257.3 134.5,258.0 135.5,259.7 136.5,256.5 137.5,261.4 138.5,257.9 139.5,256.6 140.5,259.9 141.5,263.9 142.5,262.0 143.5,258.8 144.5,257.7 145.5,254.9 146.5,261.0 147.5,259.1 148.5,257.2 149.5,259.0 150.5,264.7 151.5,257.3 152.5,252.7 153.5,255.6 154.5,260.8 155.5,260.0 156.5,258.4 157.5,252.5 158.5,256.7 159.5,258.5 160.5,255.1 161.5,258.9 162.5,254.5 163.5,260.4 164.5,260.6 165.5,257.6 166.5,255.6 167.5,257.4 168.5,258.5 169.5,263.9 170.5,261.7 171.5,261.2 172.5,260.9 173.5,258.1 174.5,260.1 175.5,257.5 176.5,258.9 177.5,260.1 178.5,259.0 179.5,258.0 180.5,256.8 181.5,260.0 182.5,259.6 183.5,262.3 184.5,255.0 185.5,254.6 186.5,258.7 187.5,259.8 188.5,261.7 189.5,258.3 190.5,257.8 191.5,252.8 192.5,257.1 193.5,260.2 194.5,264.7 195.5,255.4 196.5,257.5 197.5,262.4 198.5,258.4 199.5,262.5 200.5,250.2 201.5,254.9 202.5,257.0 203.5,259.1 204.5,264.4 205.5,259.9 206.5,263.1 207.5,258.1 208.5,264.6 209.5,262.3 210.5,256.7 211.5,255.2 212.5,262.3 213.5,264.0 214.5,258.1 215.5,257.6 216.5,262.3 217.5,262.1 218.5,262.1 219.5,263.3 220.5,262.2 221.5,257.2 222.5,258.1 223.5,254.8 224.5,259.8 225.5,260.5 226.5,262.6 227.5,260.6 228.5,263.3 229.5,264.7 230.5,258.5 231.5,256.0 232.5,257.3 233.5,256.1 234.5,258.7 235.5,261.3 236.5,259.5 237.5,260.5 238.5,262.4 239.5,264.1 240.5,263.7 241.5,259.9 242.5,259.2 243.5,260.7 244.5,256.1 245.5,258.9 246.5,258.2 247.5,256.6 248.5,261.6 249.5,265.1 250.5,258.6 251.5,261.7 252.5,257.1 253.5,259.1 254.5,257.7 255.5,258.3 256.5,265.6 257.5,259.3 258.5,262.1 259.5,262.7 260.5,262.0 261.5,258.9 262.5,258.3 263.5,258.0 264.5,264.7 265.5,262.6 266.5,266.8 267.5,261.5 268.5,259.1 269.5,262.3 270.5,260.0 271.5,259.7 272.5,257.6 273.5,262.0 274.5,262.3 275.5,262.1 276.5,255.6 277.5,256.5 278.5,259.6 279.5,259.0 280.5,259.1 281.5,258.8 282.5,259.7 283.5,260.1 284.5,262.3 285.5,261.0 286.5,255.0 287.5,257.2 288.5,258.6 289.5,259.5 290.5,258.8 291.5,258.0 292.5,260.5 293.5,258.7 294.5,258.4 295.5,260.9 296.5,261.3 297.5,261.9 298.5,262.1 299.5,257.3 300.5,265.0 301.5,260.6 302.5,261.0 303.5,261.2 304.5,259.4 305.5,256.7 306.5,259.1 307.5,259.9 308.5,261.1 309.5,260.0 310.5,257.3 311.5,260.3 312.5,262.5 313.5,262.9 314.5,262.5 315.5,263.1 316.5,256.8 317.5,258.0 318.5,259.6 319.5,255.4 320.5,260.2 321.5,257.1 322.5,256.5 323.5,262.3 324.5,262.9 325.5,261.2 326.5,256.4 327.5,254.9 328.5,261.1 329.5,255.9 330.5,258.9 331.5,259.3 332.5,259.7 333.5,259.2 334.5,262.9 335.5,261.3 336.5,261.7 337.5,257.5 338.5,253.1 339.5,251.1 340.5,258.8 341.5,263.1 342.5,260.3 343.5,261.4 344.5,254.2 345.5,257.2 346.5,260.9 347.5,257.1 348.5,257.8 349.5,263.5 350.5,261.3 351.5,260.4 352.5,259.8 353.5,259.5 354.5,260.7 355.5,259.5 356.5,261.4 357.5,262.4 358.5,256.4 359.5,258.7 360.5,258.8 361.5,263.8 362.5,260.7 363.5,257.8 364.5,262.9 365.5,257.3 366.5,260.4 367.5,258.8 368.5,259.9 369.5,259.1 370.5,256.4 371.5,260.2 372.5,255.6 373.5,261.0 374.5,261.9 375.5,257.8 376.5,261.9 377.5,260.6 378.5,257.2 379.5,256.1 380.5,263.6 381.5,258.7 382.5,254.7 383.5,256.1 384.5,260.0 385.5,261.3 386.5,260.7 387.5,262.9 388.5,261.0 389.5,260.6 390.5,260.6 391.5,257.3 392.5,260.7 393.5,264.2 394.5,258.3 395.5,263.0 396.5,262.1 397.5,261.2 398.5,261.7 399.5,263.4 400.5,261.7 401.5,255.4 402.5,261.8 403.5,261.3 404.5,258.0 405.5,258.5 406.5,258.5 407.5,258.2 408.5,265.3 409.5,263.1 410.5,260.2 411.5,259.0 412.5,256.8 413.5,258.5 414.5,260.4 415.5,259.8 416.5,260.3 417.5,259.1 418.5,257.8 419.5,260.2 420.5,261.5 421.5,261.7 422.5,256.7 423.5,255.7 424.5,256.4 425.5,256.8 426.5,256.8 427.5,258.9 428.5,257.5 429.5,261.6 430.5,260.0 431.5,261.1 432.5,257.6 433.5,260.6 434.5,259.8 435.5,258.4 436.5,255.9 437.5,261.1 438.5,262.1 439.5,257.8 440.5,262.2 441.5,258.8 442.5,261.0 443.5,260.1 444.5,264.3 445.5,258.4 446.5,260.8 447.5,262.1 448.5,254.7 449.5,257.3 450.5,250.6 451.5,257.6 452.5,260.2 453.5,259.2 454.5,255.2 455.5,258.9 456.5,258.0 457.5,257.6 458.5,261.1 459.5,258.7 460.5,260.0 461.5,261.9 462.5,256.7 463.5,256.6 464.5,258.0 465.5,260.6 466.5,263.6 467.5,257.5 468.5,258.3 469.5,262.5 470.5,258.8 471.5,262.0 472.5,258.7 473.5,257.9 474.5,257.3 475.5,257.7 476.5,257.9 477.5,261.3 478.5,259.8 479.5,260.0 480.5,259.4 481.5,258.2 482.5,257.3 483.5,254.7 484.5,265.2 485.5,258.8 486.5,259.7 487.5,253.7 488.5,256.5 489.5,263.5 490.5,259.0 491.5,260.9 492.5,257.3 493.5,262.1 494.5,260.3 495.5,260.1 496.5,260.0 497.5,261.2 498.5,264.5 499.5,259.0 500.5,257.0 501.5,259.6 502.5,262.2 503.5,259.3 504.5,258.0 505.5,259.7 506.5,259.5 507.5,255.8 508.5,261.8 509.5,260.9 510.5,264.2 511.5,261.4 512.5,261.2 513.5,261.8 514.5,261.2 515.5,254.8 516.5,259.3 517.5,259.6 518.5,253.8" fill="none" stroke="#0000f0" stroke-width="1.35" stroke-linejoin="round"/></svg>
<div style="position:absolute;left:560px;top:79px;width:162px;height:75px;box-sizing:border-box;border:1px solid #808080;box-shadow:inset 1px 1px 0 #d0d0d0, 1px 1px 0 #dcdcdc"></div>
<div style="position:absolute;left:567px;top:78px;width:49px;height:3px;background:#fff"></div>
<span class="t" style="left:569.70px;top:74.00px;font-size:12px;color:#000;transform:scaleX(0.9671);">Disc&nbsp;info</span>
<span class="t" style="left:568.00px;top:85.50px;font-size:12px;color:#000;transform:scaleX(0.9031);">Type:</span>
<span class="t" style="left:623.30px;top:85.50px;font-size:12px;color:#000080;transform:scaleX(0.9864);">DVD-R</span>
<span class="t" style="left:568.00px;top:102.70px;font-size:12px;color:#000;transform:scaleX(0.7829);">ID:</span>
<span class="t" style="left:623.30px;top:102.70px;font-size:12px;color:#000080;transform:scaleX(0.9052);">UTJR001001</span>
<span class="t" style="left:568.00px;top:119.20px;font-size:12px;color:#000;transform:scaleX(0.8894);">Date:</span>
<span class="t" style="left:623.30px;top:119.20px;font-size:12px;color:#000080;transform:scaleX(0.9228);">5&nbsp;Feb&nbsp;2006</span>
<span class="t" style="left:568.00px;top:135.70px;font-size:12px;color:#000;transform:scaleX(0.8566);">Label:</span>
<span class="t" style="left:623.30px;top:135.70px;font-size:12px;color:#000080;transform:scaleX(0.8570);">CDS_TEST_B2</span>
<div style="position:absolute;left:560px;top:163px;width:162px;height:188px;box-sizing:border-box;border:1px solid #808080;box-shadow:inset 1px 1px 0 #d0d0d0, 1px 1px 0 #dcdcdc"></div>
<div style="position:absolute;left:567px;top:162px;width:45px;height:3px;background:#fff"></div>
<span class="t" style="left:569.50px;top:157.80px;font-size:12px;color:#000;transform:scaleX(0.9344);">Settings</span>
<div style="position:absolute;left:570px;top:172px;width:98px;height:20px;background:#fff;box-sizing:border-box;border:1px solid;border-color:#808080 #bcbcbc #bcbcbc #808080"></div>
<div style="position:absolute;left:571px;top:173px;width:96px;height:18px;box-sizing:border-box;border:1px solid;border-color:#000 #cccccc #cccccc #000"></div>
<div style="position:absolute;left:649px;top:174px;width:17px;height:16px;background:#fff;box-sizing:border-box;border:1px solid;border-color:#c0c0c0 #101010 #101010 #c0c0c0"></div>
<div style="position:absolute;left:650px;top:175px;width:15px;height:14px;box-sizing:border-box;border:1px solid;border-color:#d4d4d4 #888 #888 #d4d4d4"></div>
<svg width="724" height="441"><path d="M652.8 180 h8 l-4 4z" fill="#000"/></svg>
<span class="t" style="left:573.50px;top:176.00px;font-size:12px;color:#000;transform:scaleX(0.9822);">4&nbsp;X&nbsp;CLV</span>
<div style="position:absolute;left:677px;top:170px;width:26px;height:21px;background:#fff;box-sizing:border-box;border:1px solid;border-color:#c0c0c0 #101010 #101010 #c0c0c0"></div>
<div style="position:absolute;left:678px;top:171px;width:24px;height:19px;box-sizing:border-box;border:1px solid;border-color:#d4d4d4 #888 #888 #d4d4d4"></div>
<svg width="724" height="441"><rect x="682.5" y="172.5" width="13" height="15" fill="#fff" stroke="#000" stroke-width="1"/><path d="M685.6 180.2 v-3.2 h3.5 M692.6 180.3 v3.2 h-3.5" stroke="#009000" stroke-width="1.3" fill="none"/><path d="M688.5 174.3 l3 2.7 l-3 2.7z M689.5 180.8 l-3 2.7 l3 2.7z" fill="#008c00"/></svg>
<span class="t" style="left:572.00px;top:200.20px;font-size:12px;color:#000;transform:scaleX(0.9073);">Start:</span>
<div style="position:absolute;left:633px;top:196.5px;width:69.5px;height:17px;background:#fff;box-sizing:border-box;border:1px solid;border-color:#808080 #bcbcbc #bcbcbc #808080"></div>
<div style="position:absolute;left:634px;top:197.5px;width:67.5px;height:15px;box-sizing:border-box;border:1px solid;border-color:#000 #cccccc #cccccc #000"></div>
<span class="t" style="left:635.80px;top:199.30px;font-size:12px;color:#000;transform:scaleX(0.9164);">0000&nbsp;MB</span>
<span class="t" style="left:572.00px;top:221.20px;font-size:12px;color:#000;transform:scaleX(0.8106);">End:</span>
<div style="position:absolute;left:633px;top:217.5px;width:69.5px;height:17px;background:#fff;box-sizing:border-box;border:1px solid;border-color:#808080 #bcbcbc #bcbcbc #808080"></div>
<div style="position:absolute;left:634px;top:218.5px;width:67.5px;height:15px;box-sizing:border-box;border:1px solid;border-color:#000 #cccccc #cccccc #000"></div>
<span class="t" style="left:635.80px;top:220.40px;font-size:12px;color:#000;transform:scaleX(0.9164);">4488&nbsp;MB</span>
<div style="position:absolute;left:572px;top:237px;width:13px;height:13px;background:#fff;box-sizing:border-box;border:1px solid;border-color:#808080 #c4c4c4 #c4c4c4 #808080"></div>
<div style="position:absolute;left:573px;top:238px;width:11px;height:11px;box-sizing:border-box;border:1px solid;border-color:#202020 #ececec #ececec #202020"></div>
<span class="t" style="left:589.60px;top:237.00px;font-size:12px;color:#000;transform:scaleX(0.9605);">Quick&nbsp;scan</span>
<div style="position:absolute;left:572px;top:254px;width:13px;height:13px;background:#fff;box-sizing:border-box;border:1px solid;border-color:#808080 #c4c4c4 #c4c4c4 #808080"></div>
<div style="position:absolute;left:573px;top:255px;width:11px;height:11px;box-sizing:border-box;border:1px solid;border-color:#202020 #ececec #ececec #202020"></div>
<svg width="724" height="441"><path d="M575.5 259.5 l2.3 2.4 l4 -4.4" stroke="#000" stroke-width="2" fill="none"/></svg>
<span class="t" style="left:589.60px;top:253.60px;font-size:12px;color:#000;transform:scaleX(0.9489);">Show&nbsp;C1/PIE</span>
<div style="position:absolute;left:572px;top:267px;width:13px;height:13px;background:#fff;box-sizing:border-box;border:1px solid;border-color:#808080 #c4c4c4 #c4c4c4 #808080"></div>
<div style="position:absolute;left:573px;top:268px;width:11px;height:11px;box-sizing:border-box;border:1px solid;border-color:#202020 #ececec #ececec #202020"></div>
<svg width="724" height="441"><path d="M575.5 272.5 l2.3 2.4 l4 -4.4" stroke="#000" stroke-width="2" fill="none"/></svg>
<span class="t" style="left:589.60px;top:266.70px;font-size:12px;color:#000;transform:scaleX(0.9579);">Show&nbsp;C2/PIF</span>
<div style="position:absolute;left:572px;top:282px;width:13px;height:13px;background:#fff;box-sizing:border-box;border:1px solid;border-color:#808080 #c4c4c4 #c4c4c4 #808080"></div>
<div style="position:absolute;left:573px;top:283px;width:11px;height:11px;box-sizing:border-box;border:1px solid;border-color:#202020 #ececec #ececec #202020"></div>
<svg width="724" height="441"><path d="M575.5 287.5 l2.3 2.4 l4 -4.4" stroke="#000" stroke-width="2" fill="none"/></svg>
<span class="t" style="left:589.60px;top:281.60px;font-size:12px;color:#000;transform:scaleX(0.9712);">Show&nbsp;jitter</span>
<div style="position:absolute;left:572px;top:297px;width:13px;height:13px;background:#fff;box-sizing:border-box;border:1px solid;border-color:#808080 #c4c4c4 #c4c4c4 #808080"></div>
<div style="position:absolute;left:573px;top:298px;width:11px;height:11px;box-sizing:border-box;border:1px solid;border-color:#202020 #ececec #ececec #202020"></div>
<svg width="724" height="441"><path d="M575.5 302.5 l2.3 2.4 l4 -4.4" stroke="#000" stroke-width="2" fill="none"/></svg>
<span class="t" style="left:589.60px;top:296.40px;font-size:12px;color:#000;transform:scaleX(0.9285);">Show&nbsp;read&nbsp;speed</span>
<div style="position:absolute;left:572px;top:311px;width:13px;height:13px;background:#fff;box-sizing:border-box;border:1px solid;border-color:#808080 #c4c4c4 #c4c4c4 #808080"></div>
<div style="position:absolute;left:573px;top:312px;width:11px;height:11px;box-sizing:border-box;border:1px solid;border-color:#202020 #ececec #ececec #202020"></div>
<svg width="724" height="441"><path d="M575.5 316.5 l2.3 2.4 l4 -4.4" stroke="#000" stroke-width="2" fill="none"/></svg>
<span class="t" style="left:589.60px;top:310.50px;font-size:12px;color:#000;transform:scaleX(0.9472);">Show&nbsp;write&nbsp;speed</span>
<div style="position:absolute;left:628px;top:326.6px;width:88px;height:20px;background:#fff;box-sizing:border-box;border:1px solid;border-color:#c0c0c0 #101010 #101010 #c0c0c0"></div>
<div style="position:absolute;left:629px;top:327.6px;width:86px;height:18px;box-sizing:border-box;border:1px solid;border-color:#d4d4d4 #888 #888 #d4d4d4"></div>
<span class="t" style="left:647.80px;top:329.50px;font-size:12px;color:#000;transform:scaleX(0.9033);">Advanced</span>
<div style="position:absolute;left:560px;top:356px;width:162px;height:23px;box-sizing:border-box;border:1px solid #808080;box-shadow:inset 1px 1px 0 #d0d0d0, 1px 1px 0 #dcdcdc"></div>
<span class="t" style="left:571.70px;top:362.20px;font-size:12px;color:#000;transform:scaleX(0.9585);">Quality&nbsp;score:</span>
<span class="t" style="left:698.70px;top:362.20px;font-size:12px;color:#000080;transform:scaleX(0.9218);">98</span>
<div style="position:absolute;left:560px;top:386px;width:162px;height:52px;box-sizing:border-box;border:1px solid #808080;box-shadow:inset 1px 1px 0 #d0d0d0, 1px 1px 0 #dcdcdc"></div>
<span class="t" style="left:572.50px;top:393.70px;font-size:12px;color:#000;transform:scaleX(0.9057);">Progress:</span>
<span class="t" style="left:681.70px;top:393.70px;font-size:12px;color:#000080;transform:scaleX(0.8614);">100&nbsp;%</span>
<span class="t" style="left:572.50px;top:408.80px;font-size:12px;color:#000;transform:scaleX(0.9127);">Position:</span>
<span class="t" style="left:665.20px;top:408.80px;font-size:12px;color:#000080;transform:scaleX(0.9539);">4487&nbsp;MB</span>
<span class="t" style="left:571.70px;top:421.70px;font-size:12px;color:#000;transform:scaleX(0.8681);">Speed:</span>
<span class="t" style="left:679.50px;top:421.70px;font-size:12px;color:#000080;transform:scaleX(0.9085);">4.01&nbsp;X</span>
<div style="position:absolute;left:3px;top:386px;width:170.5px;height:52px;box-sizing:border-box;border:1px solid #808080;box-shadow:inset 1px 1px 0 #d0d0d0, 1px 1px 0 #dcdcdc"></div>
<div style="position:absolute;left:12px;top:385px;width:63px;height:3px;background:#fff"></div>
<span class="t" style="left:25.40px;top:380.20px;font-size:12px;color:#000;transform:scaleX(0.9255);">PI&nbsp;Errors</span>
<div style="position:absolute;left:13px;top:383px;width:8px;height:8px;background:#0000ff;border:1px solid #000060;box-sizing:border-box"></div>
<span class="t" style="left:12.70px;top:394.50px;font-size:12px;color:#000;transform:scaleX(0.8934);">Average:</span>
<span class="t" style="left:140.90px;top:394.50px;font-size:12px;color:#000080;transform:scaleX(0.8311);">0.52</span>
<span class="t" style="left:12.70px;top:408.60px;font-size:12px;color:#000;transform:scaleX(0.8709);">Maximum:</span>
<span class="t" style="left:155.30px;top:408.60px;font-size:12px;color:#000080;transform:scaleX(0.7494);">7</span>
<span class="t" style="left:12.70px;top:422.00px;font-size:12px;color:#000;transform:scaleX(0.9243);">Total:</span>
<span class="t" style="left:136.80px;top:422.00px;font-size:12px;color:#000080;transform:scaleX(0.8806);">9367</span>
<div style="position:absolute;left:187px;top:386px;width:170.5px;height:52px;box-sizing:border-box;border:1px solid #808080;box-shadow:inset 1px 1px 0 #d0d0d0, 1px 1px 0 #dcdcdc"></div>
<div style="position:absolute;left:196px;top:385px;width:72.5px;height:3px;background:#fff"></div>
<span class="t" style="left:210.00px;top:380.20px;font-size:12px;color:#000;transform:scaleX(0.9173);">PI&nbsp;Failures</span>
<div style="position:absolute;left:197px;top:383px;width:8px;height:8px;background:#ff0000;border:1px solid #700000;box-sizing:border-box"></div>
<span class="t" style="left:198.00px;top:394.50px;font-size:12px;color:#000;transform:scaleX(0.8787);">Average:</span>
<span class="t" style="left:325.70px;top:394.50px;font-size:12px;color:#000080;transform:scaleX(0.8353);">0.00</span>
<span class="t" style="left:198.00px;top:408.60px;font-size:12px;color:#000;transform:scaleX(0.8673);">Maximum:</span>
<span class="t" style="left:339.80px;top:408.60px;font-size:12px;color:#000080;transform:scaleX(0.8094);">4</span>
<span class="t" style="left:198.00px;top:422.00px;font-size:12px;color:#000;transform:scaleX(0.9138);">Total:</span>
<span class="t" style="left:327.50px;top:422.00px;font-size:12px;color:#000080;transform:scaleX(0.8843);">264</span>
<div style="position:absolute;left:372px;top:386px;width:173px;height:39px;box-sizing:border-box;border:1px solid #808080;box-shadow:inset 1px 1px 0 #d0d0d0, 1px 1px 0 #dcdcdc"></div>
<div style="position:absolute;left:381px;top:385px;width:39.60000000000002px;height:3px;background:#fff"></div>
<span class="t" style="left:395.00px;top:380.20px;font-size:12px;color:#000;transform:scaleX(0.9769);">Jitter</span>
<div style="position:absolute;left:382px;top:383px;width:8px;height:8px;background:#0000ff;border:1px solid #000060;box-sizing:border-box"></div>
<span class="t" style="left:383.70px;top:394.50px;font-size:12px;color:#000;transform:scaleX(0.8850);">Average:</span>
<span class="t" style="left:502.20px;top:394.50px;font-size:12px;color:#000080;transform:scaleX(0.8141);">7.83&nbsp;%</span>
<span class="t" style="left:383.70px;top:408.60px;font-size:12px;color:#000;transform:scaleX(0.8673);">Maximum:</span>
<span class="t" style="left:507.80px;top:408.60px;font-size:12px;color:#000080;transform:scaleX(0.8086);">9.0&nbsp;%</span>
<span class="t" style="left:383.70px;top:427.00px;font-size:12px;color:#000;transform:scaleX(0.9191);">PO&nbsp;failures:</span>
<span class="t" style="left:525.00px;top:427.00px;font-size:12px;color:#000080;transform:scaleX(0.7494);">0</span>
</body></html>
